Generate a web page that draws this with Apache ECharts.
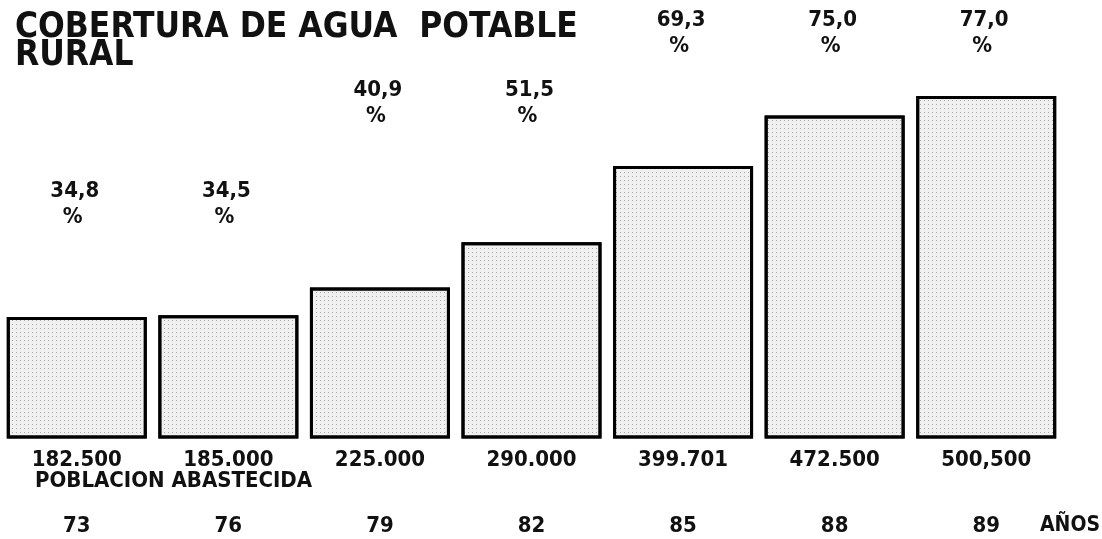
<!DOCTYPE html>
<html>
<head>
<meta charset="utf-8">
<script src="https://cdn.jsdelivr.net/npm/echarts@6/dist/echarts.min.js"></script>
<style>
html,body{margin:0;padding:0;background:#fff;}
#chart{width:1102px;height:539px;}
</style>
</head>
<body>
<div id="chart"></div>
<script>
// ---- data ----
const years = ['73', '76', '79', '82', '85', '88', '89'];
const population = [182500, 185000, 225000, 290000, 399701, 472500, 500500];
const populationLabels = ['182.500', '185.000', '225.000', '290.000', '399.701', '472.500', '500,500'];
const coverage = [34.8, 34.5, 40.9, 51.5, 69.3, 75.0, 77.0];

// ---- layout (not data) ----
const pctLabelCenterY = [191, 191, 90, 90, 20, 20, 20];
const FONT = 'DejaVu Sans Condensed';

const chart = echarts.init(document.getElementById('chart'), null, {renderer: 'canvas'});

const option = {
  backgroundColor: '#fff',
  animation: false,
  title: {
    text: 'COBERTURA DE AGUA  POTABLE\nRURAL',
    left: 10, top: 9,
    textStyle: {fontFamily: FONT, fontWeight: 'bold', fontSize: 35, lineHeight: 28, color: '#111'}
  },
  grid: {left: 1, right: 40, top: 96, bottom: 102},
  xAxis: {
    type: 'category',
    data: years,
    axisLine: {show: false},
    axisTick: {show: false},
    axisLabel: {
      margin: 10,
      interval: 0,
      formatter: (v, i) => '{p|' + populationLabels[i] + '}\n{g|}\n{y|' + v + '}',
      rich: {
        p: {fontFamily: FONT, fontWeight: 'bold', fontSize: 22, lineHeight: 26, color: '#111'},
        g: {lineHeight: 40},
        y: {fontFamily: FONT, fontWeight: 'bold', fontSize: 22, lineHeight: 26, color: '#111'}
      }
    }
  },
  yAxis: {
    type: 'value', min: 10000, max: 500500, show: false, splitLine: {show: false}
  },
  series: [{
    type: 'bar',
    data: population,
    barWidth: 140,
    itemStyle: {
      color: '#f0f0f0',
      borderColor: '#000',
      borderWidth: 3,
      decal: {
        symbol: 'rect',
        symbolSize: 1,
        color: 'rgba(0,0,0,0.3)',
        dashArrayX: [1, 3],
        dashArrayY: [1, 3],
        rotation: 0
      }
    }
  }]
};
chart.setOption(option);

const graphics = [];
coverage.forEach((c, i) => {
  const x = chart.convertToPixel({xAxisIndex: 0}, years[i]);
  graphics.push({
    type: 'text', x: x - 2, y: pctLabelCenterY[i],
    style: {
      text: c.toFixed(1).replace('.', ','),
      fontFamily: FONT, fontSize: 22, fill: '#111', fontWeight: 'bold',
      align: 'center', verticalAlign: 'middle'
    }
  });
  graphics.push({
    type: 'text', x: x - 4, y: pctLabelCenterY[i] + 26,
    style: {
      text: '%',
      fontFamily: FONT, fontSize: 22, fill: '#111', fontWeight: 'bold',
      align: 'center', verticalAlign: 'middle'
    }
  });
});
graphics.push({
  type: 'text', x: 35, y: 481,
  style: {text: 'POBLACION ABASTECIDA', fontFamily: FONT, fontWeight: 'bold', fontSize: 22, fill: '#111', align: 'left', verticalAlign: 'middle'}
});
graphics.push({
  type: 'text', x: 1040, y: 526,
  style: {text: 'AÑOS', fontFamily: FONT, fontWeight: 'bold', fontSize: 21, fill: '#111', align: 'left', verticalAlign: 'middle'}
});
chart.setOption({graphic: graphics});
</script>
</body>
</html>
